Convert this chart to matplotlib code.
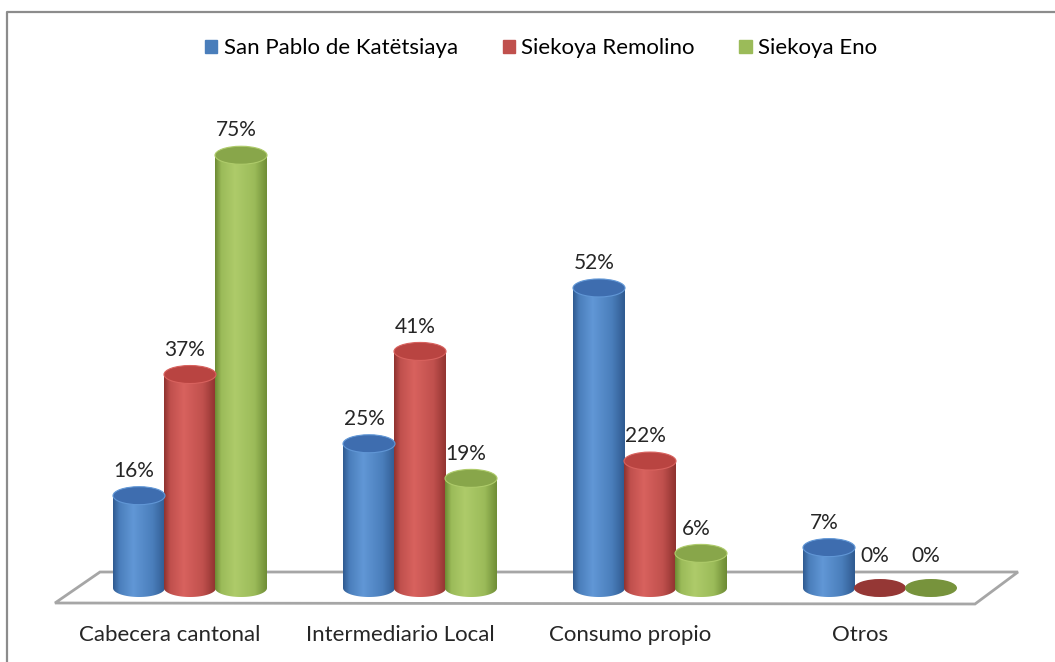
import matplotlib
matplotlib.use('Agg')
import matplotlib.pyplot as plt
import numpy as np
from matplotlib.colors import LinearSegmentedColormap
from matplotlib.patches import Ellipse, Polygon, Rectangle
from matplotlib.lines import Line2D

# Datos
categories = ['Cabecera cantonal', 'Intermediario Local', 'Consumo propio', 'Otros']
series = ['San Pablo de Katëtsiaya', 'Siekoya Remolino', 'Siekoya Eno']
san_pablo = [16, 25, 52, 7]
remolino = [37, 41, 22, 0]
eno = [75, 19, 6, 0]
values = [san_pablo, remolino, eno]

# colores: borde oscuro, base, brillo, tapa, cero
palette = [
    ('#2f5a90', '#4a7ebb', '#6197d6', '#3e6daf', '#355f98'),
    ('#8e322f', '#c0504d', '#d8625e', '#b94441', '#953735'),
    ('#6c8a33', '#9bbb59', '#aecb6a', '#88a64a', '#77933c'),
]

plt.rcParams['font.family'] = ['Lato', 'DejaVu Sans']
fig = plt.figure(figsize=(10.55, 6.62), dpi=100)
ax = fig.add_axes([0, 0, 1, 1])

PX_X0, PX_CAT, PX_Y0, PX_PCT = 190.0, 230.0, 588.0, 5.77


def px(x, y):
    return (x - PX_X0) / PX_CAT, (PX_Y0 - y) / PX_PCT


bar_w = 52 / PX_CAT
step = 51 / PX_CAT
ell_h = 18 / PX_PCT

# piso
floor = Polygon([px(55, 603), px(100, 572), px(1018, 572), px(975, 604)], closed=True,
                facecolor='white', edgecolor='#a6a6a6', lw=2, zorder=1)
ax.add_patch(floor)

grad = np.linspace(0, 1, 256).reshape(1, -1)
for s, vals in enumerate(values):
    dark, base, light, top, zero = palette[s]
    cmap = LinearSegmentedColormap.from_list(
        'c%d' % s, [(0, dark), (0.12, base), (0.38, light), (0.75, base), (1, dark)])
    for i, v in enumerate(vals):
        xc = i + (s - 1) * step
        x0, x1 = xc - bar_w / 2, xc + bar_w / 2
        if v == 0:
            ax.add_patch(Ellipse((xc, 0), bar_w, ell_h, facecolor=zero, edgecolor='none', zorder=3))
            dy = 5.5
        else:
            a = np.linspace(2 * np.pi, np.pi, 50)
            pts = [(x0, v), (x1, v)] + list(zip(xc + bar_w / 2 * np.cos(a), ell_h / 2 * np.sin(a)))
            clip = Polygon(pts, closed=True, facecolor='none', edgecolor='none')
            ax.add_patch(clip)
            im = ax.imshow(grad, cmap=cmap, extent=[x0, x1, -ell_h / 2, v], aspect='auto',
                           interpolation='bilinear', zorder=3 + s * 0.01)
            im.set_clip_path(clip)
            ax.add_patch(Ellipse((xc, v), bar_w, ell_h, facecolor=top, edgecolor=light,
                                 lw=0.8, zorder=3.5))
            dy = 4.3
        ax.text(xc - 5 / PX_CAT, v + dy, '%d%%' % v, ha='center', va='center',
                fontsize=15, color='#262626', zorder=5)

# etiquetas de categoría (desplazadas por la perspectiva)
for i, c in enumerate(categories):
    ax.text(i - 20 / PX_CAT, px(0, 635)[1], c, ha='center', va='center', fontsize=16,
            color='#262626')

ax.set_xlim(px(0, 0)[0], px(1055, 0)[0])
ax.set_ylim(px(0, 662)[1], px(0, 0)[1])
ax.axis('off')

handles = [Rectangle((0, 0), 1, 1, color=palette[s][1]) for s in range(3)]
fig.legend(handles, series, loc='center', bbox_to_anchor=(0.513, 0.927), ncol=3,
           frameon=False, fontsize=16, handlelength=0.55, handleheight=0.55,
           handletextpad=0.3, columnspacing=2.0)

# marco
fig.lines.append(Line2D([7 / 1055, 7 / 1055, 1.0], [0.0, 1 - 12 / 662, 1 - 12 / 662],
                        transform=fig.transFigure, color='#8c8c8c', lw=1.6))

fig.savefig('out.png', dpi=100)
